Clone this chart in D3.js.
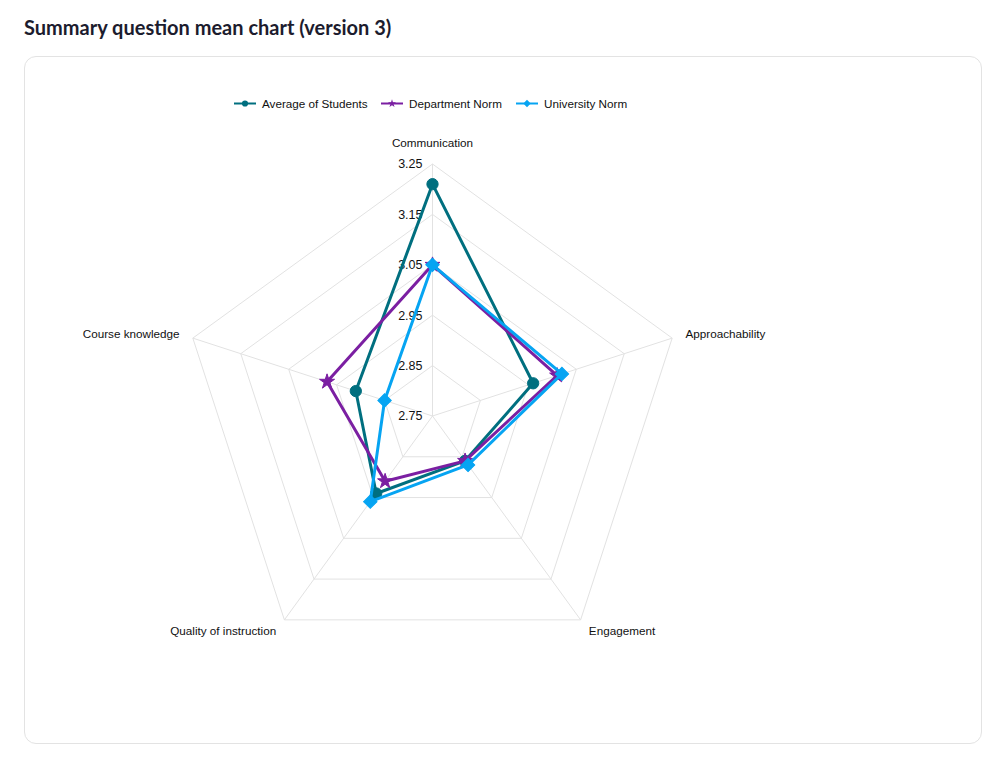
<!DOCTYPE html>
<html>
<head>
<meta charset="utf-8">
<script src="https://cdn.jsdelivr.net/npm/d3@7"></script>
<style>
  body { margin: 0; background: #fff; }
  #title { position: absolute; left: 24px; top: 15px; margin: 0; font: bold 20px Lato, sans-serif; color: #1c1c2e; }
  #card { position: absolute; left: 24px; top: 56px; width: 958px; height: 688px; border: 1px solid #e3e3e3; border-radius: 12px; box-sizing: border-box; }
  svg { position: absolute; left: 0; top: 0; }
</style>
</head>
<body>
<h1 id="title">Summary question mean chart (version 3)</h1>
<div id="card"></div>
<div id="chart"></div>
<script>
// axes of the radar
var categories = ["Communication", "Approachability", "Engagement", "Quality of instruction", "Course knowledge"];
var tickValues = [2.75, 2.85, 2.95, 3.05, 3.15, 3.25];
var seriesNames = ["Average of Students", "Department Norm", "University Norm"];
var averageValues = [3.21, 2.96, 2.86, 2.94, 2.91];
var departmentValues = [3.05, 3.01, 2.86, 2.91, 2.97];
var universityValues = [3.05, 3.02, 2.87, 2.96, 2.85];
var colors = ["#006f7f", "#7b1fa2", "#06a4f2"];

var width = 999, height = 766;
var cx = 432.5, cy = 416, R = 252;
var labelFont = "11.7px 'Liberation Sans', Arial, sans-serif";

var svg = d3.select("#chart").append("svg")
  .attr("width", width)
  .attr("height", height);

var r = d3.scaleLinear().domain([2.75, 3.25]).range([0, R]);
var angle = d3.scalePoint().domain(categories).range([0, 2 * Math.PI * 4 / 5]);

function pt(cat, v) {
  var a = angle(cat), d = r(v);
  return [cx + d * Math.sin(a), cy - d * Math.cos(a)];
}

// grid rings
var g = svg.append("g");
tickValues.slice(1).forEach(function(t) {
  g.append("polygon")
    .attr("points", categories.map(function(c) { return pt(c, t).join(","); }).join(" "))
    .attr("fill", "none")
    .attr("stroke", "#e2e2e2")
    .attr("stroke-width", 1);
});
// angle lines
categories.forEach(function(c) {
  var p = pt(c, 3.25);
  g.append("line")
    .attr("x1", cx).attr("y1", cy)
    .attr("x2", p[0]).attr("y2", p[1])
    .attr("stroke", "#e2e2e2");
});

// point labels
categories.forEach(function(c) {
  var a = angle(c);
  var d = R + 14;
  var x = cx + d * Math.sin(a), y = cy - d * Math.cos(a);
  var s = Math.sin(a);
  var anchor = Math.abs(s) < 0.01 ? "middle" : (s > 0 ? "start" : "end");
  var t = svg.append("text")
    .attr("x", x)
    .attr("y", y)
    .attr("text-anchor", anchor)
    .style("font", labelFont)
    .style("fill", "#111")
    .text(c);
  if (Math.abs(s) < 0.01) t.attr("y", y - 3); else t.attr("dy", "0.35em");
});

// tick labels
tickValues.forEach(function(t) {
  svg.append("text")
    .attr("x", cx - 10)
    .attr("y", cy - r(t))
    .attr("dy", "0.35em")
    .attr("text-anchor", "end")
    .style("font", "12.5px 'Liberation Sans', Arial, sans-serif")
    .style("fill", "#111")
    .text(t.toFixed(2));
});

var symbols = [d3.symbolCircle, d3.symbolStar, d3.symbolSquare];
var sizes = [100, 70, 90];
var rotations = [0, 0, 45];
var allSeries = [averageValues, departmentValues, universityValues];

allSeries.forEach(function(vals, i) {
  var pts = categories.map(function(c, j) { return pt(c, vals[j]); });
  svg.append("path")
    .attr("d", d3.line().curve(d3.curveLinearClosed)(pts))
    .attr("fill", "none")
    .attr("stroke", colors[i])
    .attr("stroke-width", 3)
    .attr("stroke-linejoin", "round");
  svg.append("g").selectAll("path")
    .data(pts)
    .enter()
    .append("path")
    .attr("d", d3.symbol().type(symbols[i]).size(sizes[i]))
    .attr("transform", function(p) { return "translate(" + p[0] + "," + p[1] + ") rotate(" + rotations[i] + ")"; })
    .attr("fill", colors[i])
    .attr("stroke", colors[i])
    .attr("stroke-width", 1);
});

// legend
var legendX = [234, 381, 516];
var leg = svg.append("g");
seriesNames.forEach(function(name, i) {
  var x = legendX[i], y = 103.5;
  leg.append("line")
    .attr("x1", x).attr("x2", x + 22)
    .attr("y1", y).attr("y2", y)
    .attr("stroke", colors[i])
    .attr("stroke-width", 2);
  leg.append("path")
    .attr("d", d3.symbol().type(symbols[i]).size(sizes[i] * 0.3))
    .attr("transform", "translate(" + (x + 11) + "," + y + ") rotate(" + rotations[i] + ")")
    .attr("fill", colors[i]);
  leg.append("text")
    .attr("x", x + 28)
    .attr("y", y)
    .attr("dy", "0.35em")
    .style("font", labelFont)
    .style("fill", "#111")
    .text(name);
});
</script>
</body>
</html>
